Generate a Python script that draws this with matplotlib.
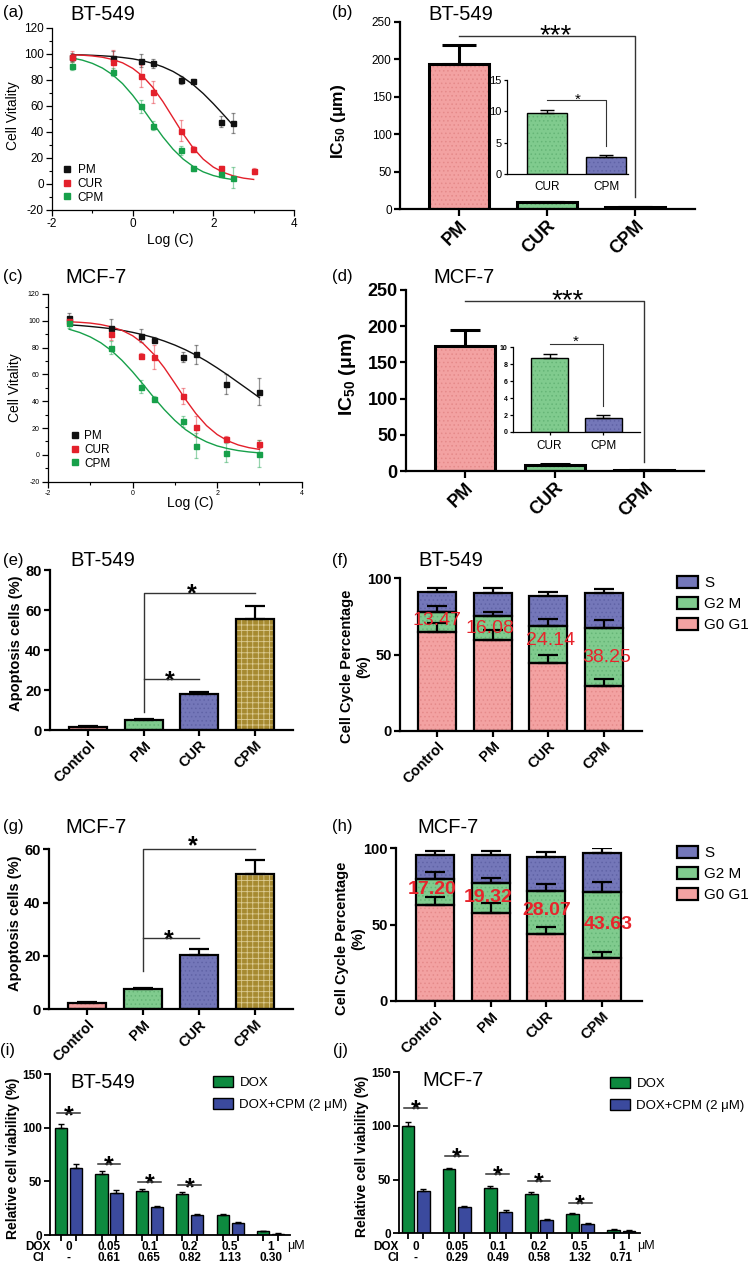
import numpy as np
import matplotlib
matplotlib.use('Agg')
import matplotlib.pyplot as plt
from matplotlib.patches import Patch
from matplotlib.lines import Line2D
from matplotlib.transforms import blended_transform_factory

plt.rcParams['font.family'] = ['Liberation Sans', 'DejaVu Sans']
plt.rcParams['mathtext.fontset'] = 'custom'
plt.rcParams['mathtext.rm'] = 'Liberation Sans'
plt.rcParams['mathtext.bf'] = 'Liberation Sans:bold'
plt.rcParams['mathtext.it'] = 'Liberation Sans:italic'
plt.rcParams['axes.unicode_minus'] = False
plt.rcParams['hatch.linewidth'] = 0.6
plt.rcParams['xtick.direction'] = 'out'
plt.rcParams['ytick.direction'] = 'out'

# ---------------- data ----------------
# (a) BT-549 cell viability vs log concentration
a_pm_x = [-1.5, -0.5, 0.2, 0.5, 1.2, 1.5, 2.2, 2.5]
a_pm_y = [98, 97, 95, 93, 80, 79, 48, 47]
a_pm_e = [3, 5, 5, 3.5, 3, 1.5, 4.5, 8]
a_cur_x = [-1.5, -0.5, 0.2, 0.5, 1.2, 1.5, 2.2, 3.0]
a_cur_y = [98, 94, 83, 71, 41, 27, 12, 10]
a_cur_e = [4, 9, 8.5, 8.5, 8, 2, 2, 2]
a_cpm_x = [-1.5, -0.5, 0.2, 0.5, 1.2, 1.5, 2.2, 2.5]
a_cpm_y = [91, 86, 60, 45, 26, 12, 8, 5]
a_cpm_e = [3, 3, 5, 3.5, 3.5, 2, 2, 8]
# fitted curves
a_fit_pm_x = [-1.5, -1.25, -1.0, -0.75, -0.5, -0.25, 0.0, 0.25, 0.5, 0.75, 1.0, 1.25, 1.5, 1.75, 2.0, 2.25, 2.5]
a_fit_pm_y = [99.5, 99.3, 99.0, 98.6, 98.1, 97.3, 96.3, 94.8, 92.8, 90.1, 86.6, 82.0, 76.4, 69.6, 61.8, 53.4, 44.8]
a_fit_cur_x = [-1.5, -1.25, -1.0, -0.75, -0.5, -0.25, 0.0, 0.25, 0.5, 0.75, 1.0, 1.25, 1.5, 1.75, 2.0, 2.25, 2.5, 2.75, 3.0]
a_fit_cur_y = [99.5, 99.1, 98.5, 97.5, 95.8, 93.2, 89.0, 82.9, 74.3, 63.4, 51.0, 38.6, 27.7, 19.1, 13.0, 8.9, 6.2, 4.5, 3.5]
a_fit_cpm_x = [-1.5, -1.25, -1.0, -0.75, -0.5, -0.25, 0.0, 0.25, 0.5, 0.75, 1.0, 1.25, 1.5, 1.75, 2.0, 2.25, 2.5]
a_fit_cpm_y = [96.9, 95.3, 92.8, 89.2, 84.1, 77.2, 68.3, 58.0, 47.0, 36.2, 26.8, 19.2, 13.5, 9.3, 6.5, 4.6, 3.3]

# (c) MCF-7 cell viability
c_x = [-1.5, -0.5, 0.2, 0.5, 1.2, 1.5, 2.2, 3.0]
c_pm_y = [102, 95, 89, 86, 73, 75, 53, 47]
c_pm_e = [4, 6, 5, 2, 4, 7, 7.5, 10]
c_cur_y = [100, 90, 74, 73, 44, 21, 12, 8]
c_cur_e = [3, 4, 2, 9, 6, 8, 2, 3]
c_cpm_y = [98, 80, 51, 42, 25, 7, 1.5, 1]
c_cpm_e = [3, 5, 5, 2, 4, 9, 7, 10]
c_fit_x = [-1.5, -1.25, -1.0, -0.75, -0.5, -0.25, 0.0, 0.25, 0.5, 0.75, 1.0, 1.25, 1.5, 1.75, 2.0, 2.25, 2.5, 2.75, 3.0]
c_fit_pm_y = [97.0, 96.5, 95.8, 95.0, 94.1, 92.9, 91.4, 89.6, 87.5, 84.9, 81.9, 78.4, 74.4, 69.9, 64.9, 59.6, 54.0, 48.4, 42.7]
c_fit_cur_y = [99.3, 98.9, 98.3, 97.2, 95.5, 92.9, 88.9, 83.1, 75.1, 65.0, 53.4, 41.5, 30.7, 21.8, 15.2, 10.5, 7.4, 5.4, 4.1]
c_fit_cpm_y = [93.7, 91.3, 88.0, 83.6, 77.8, 70.5, 62.0, 52.6, 42.9, 33.8, 25.7, 18.9, 13.7, 9.7, 6.7, 4.7, 3.2, 2.2, 1.5]
series_names = ['PM', 'CUR', 'CPM']

# (b)/(d) IC50
ic_cats = ['PM', 'CUR', 'CPM']
b_ic50 = [194, 9.7, 2.7]
b_ic50_err = [25, 0.45, 0.35]
d_ic50 = [172, 8.7, 1.7]
d_ic50_err = [23, 0.55, 0.3]

# (e)/(g) apoptosis
apo_cats = ['Control', 'PM', 'CUR', 'CPM']
e_apo = [1.5, 5, 17.8, 55.5]
e_apo_err = [0.3, 0.3, 1.4, 6.5]
g_apo = [2.5, 7.5, 20.3, 50.6]
g_apo_err = [0.2, 0.5, 2.5, 5.5]

# (f)/(h) cell cycle
cc_phases = ['S', 'G2 M', 'G0 G1']
f_g0g1 = [64.6, 59.2, 44.7, 29.4]
f_g2m = [13.47, 16.08, 24.14, 38.25]
f_s = [13.1, 15.3, 19.6, 23.0]
f_g0g1_err = [6.3, 6.6, 5.1, 4.4]
f_g2m_err = [3.9, 2.4, 4.7, 5.3]
f_s_err = [2.7, 3.3, 2.8, 2.6]
h_g0g1 = [62.7, 57.9, 43.7, 27.9]
h_g2m = [17.20, 19.32, 28.07, 43.63]
h_s = [16.0, 18.2, 22.7, 25.7]
h_g0g1_err = [5.6, 6.1, 5.0, 4.4]
h_g2m_err = [4.6, 3.6, 4.6, 6.7]
h_s_err = [2.6, 2.9, 3.3, 2.8]

# (i)/(j) combination
dox_doses = ['0', '0.05', '0.1', '0.2', '0.5', '1']
i_ci = ['-', '0.61', '0.65', '0.82', '1.13', '0.30']
i_dox = [100, 57, 41, 38.4, 18.4, 3.4]
i_dox_err = [4, 2.4, 2.2, 1.6, 1.0, 0.5]
i_cmb = [63, 39, 26, 18.4, 11.6, 0.9]
i_cmb_err = [3, 2.6, 1.5, 1.3, 0.9, 1.3]
i_sig_groups = [0, 1, 2, 3]
i_sig_y = [113.6, 66.3, 49.8, 46.4]
j_ci = ['-', '0.29', '0.49', '0.58', '1.32', '0.71']
j_dox = [100.3, 59.6, 42.5, 37, 18.3, 3.4]
j_dox_err = [3.1, 1.6, 1.9, 1.5, 1.0, 0.3]
j_cmb = [39.4, 24.2, 20.2, 12.4, 8.4, 2.5]
j_cmb_err = [1.9, 1.6, 1.2, 0.6, 0.9, 0.6]
j_sig_groups = [0, 1, 2, 3, 4]
j_sig_y = [117, 72, 55.3, 48.8, 28.6]

# ---------------- styles ----------------
C_BLACK, C_RED, C_GREEN = '#111111', '#e3202b', '#17a04a'
PINK, PINK_H = '#f3a2a2', '#e58a8a'
GRN, GRN_H = '#80cb8e', '#66b577'
BLU, BLU_H = '#7477b9', '#6063a6'
OLV, OLV_H = '#a68a30', '#dccb92'
DOXG, CMBB = '#0d8a3f', '#3b4a9e'
RED_TXT = '#e8242c'

W, H = 750, 1267
fig = plt.figure(figsize=(W / 100, H / 100), dpi=100)


def px_ax(l, t, r, b):
    return fig.add_axes([l / W, 1 - b / H, (r - l) / W, (b - t) / H])


def ftext(x, y, s, **kw):
    return fig.text(x / W, 1 - y / H, s, **kw)


def clean(ax, lw):
    for sp in ('top', 'right'):
        ax.spines[sp].set_visible(False)
    for sp in ('left', 'bottom'):
        ax.spines[sp].set_linewidth(lw)


def hbar(ax, x, h, w, face, hcol, hatch, lw, bottom=None, z=2):
    ax.bar(x, h, w, bottom=bottom, color=face, edgecolor=hcol, hatch=hatch,
           linewidth=0, zorder=z)
    ax.bar(x, h, w, bottom=bottom, fill=False, edgecolor='black',
           linewidth=lw, zorder=z + 0.2)


def up_err(ax, x, top, err, lw, cs, z=4):
    ax.errorbar(x, top, yerr=[np.zeros(len(err)), err], fmt='none',
                ecolor='black', elinewidth=lw, capsize=cs, capthick=lw, zorder=z)


def star(ax, x, yc, s, fs, bold=False):
    ax.annotate(s, (x, yc), xytext=(0, -0.58 * fs), textcoords='offset points',
                ha='center', va='baseline', fontsize=fs,
                fontweight='bold' if bold else 'normal', annotation_clip=False)


def bracket(ax, xs, ys, lw=1.0):
    ax.plot(xs, ys, color='#333333', lw=lw, clip_on=False, zorder=5)


def rot_xlabels(ax, ticks, labels, fs):
    ax.set_xticks(ticks, labels=labels, fontsize=fs, fontweight='bold',
                  rotation=45, ha='right', va='top', rotation_mode='anchor')


# ---------------- (a) & (c) dose response ----------------
def dose_panel(ax, series, fits, tick_fs):
    for (x, y, e, col), (fx, fy) in zip(series, fits):
        ax.errorbar(x, y, yerr=e, fmt='none', ecolor=col, alpha=0.45,
                    elinewidth=0.9, capsize=1.6, capthick=0.9, zorder=2)
        ax.plot(fx, fy, '-', color=col, lw=1.0, zorder=3)
        ax.plot(x, y, 's', color=col, ms=3.6, zorder=4)
    ax.set_xlim(-2, 4)
    ax.set_ylim(-20, 120)
    ax.set_xticks([-2, 0, 2, 4])
    ax.set_xticks([-1, 1, 3], minor=True)
    ax.set_yticks(list(range(-20, 121, 20)))
    ax.set_yticks(list(range(-10, 120, 20)), minor=True)
    clean(ax, 0.9)
    ax.tick_params(which='major', length=4, width=0.9, labelsize=tick_fs, pad=2)
    ax.tick_params(which='minor', length=2.2, width=0.8)


def dose_legend(ax, left, top, hl):
    handles = [Line2D([], [], marker='s', color=c, ls='none', ms=4.8)
               for c in (C_BLACK, C_RED, C_GREEN)]
    ax.legend(handles, series_names, loc='upper left',
              bbox_to_anchor=(left / W, 1 - top / H), bbox_transform=fig.transFigure,
              frameon=False, fontsize=8.5, handlelength=hl, handletextpad=0.4,
              labelspacing=0.15, borderpad=0, borderaxespad=0)


axa = px_ax(52, 28, 294, 210)
dose_panel(axa,
           [(a_pm_x, a_pm_y, a_pm_e, C_BLACK), (a_cur_x, a_cur_y, a_cur_e, C_RED),
            (a_cpm_x, a_cpm_y, a_cpm_e, C_GREEN)],
           [(a_fit_pm_x, a_fit_pm_y), (a_fit_cur_x, a_fit_cur_y), (a_fit_cpm_x, a_fit_cpm_y)],
           8.5)
axa.set_ylabel('Cell Vitality', fontsize=10)
axa.yaxis.set_label_coords(-0.132, 0.52)
axa.set_xlabel('Log (C)', fontsize=10)
axa.xaxis.set_label_coords(0.487, -0.126)
dose_legend(axa, 61, 164, 1.0)

axc = px_ax(48, 294, 301.7, 481.7)
dose_panel(axc,
           [(c_x, c_pm_y, c_pm_e, C_BLACK), (c_x, c_cur_y, c_cur_e, C_RED),
            (c_x, c_cpm_y, c_cpm_e, C_GREEN)],
           [(c_fit_x, c_fit_pm_y), (c_fit_x, c_fit_cur_y), (c_fit_x, c_fit_cpm_y)],
           5)
axc.set_ylabel('Cell Vitality', fontsize=10)
axc.yaxis.set_label_coords(-0.102, 0.5)
axc.set_xlabel('Log (C)', fontsize=10)
axc.xaxis.set_label_coords(0.56, -0.076)
dose_legend(axc, 71, 430, 0.7)

# ---------------- (b) & (d) IC50 ----------------
bar_cols = [(PINK, PINK_H), (GRN, GRN_H), (BLU, BLU_H)]


def ic_main(ax, vals, errs, width, cap, ytick_fs, ybold):
    for i, v in enumerate(vals):
        hbar(ax, i, v, width, bar_cols[i][0], bar_cols[i][1], '....', 2.2)
    up_err(ax, list(range(len(vals))), vals, errs, 2.2, cap)
    ax.set_ylim(0, 250)
    ax.set_yticks(list(range(0, 251, 50)), labels=[str(v) for v in range(0, 251, 50)],
                  fontsize=ytick_fs, fontweight='bold' if ybold else 'normal')
    clean(ax, 1.6)
    ax.tick_params(axis='y', length=4, width=1.6, pad=2)
    ax.tick_params(axis='x', length=5, width=1.6, pad=1)
    rot_xlabels(ax, [0, 1, 2], ic_cats, 13)


def ic_inset(ax, vals, errs, ymax, yticks, ytick_fs, ybold, xtick_len, xpad):
    ax.set_facecolor('none')
    for i, v in enumerate(vals):
        hbar(ax, i, v, 0.68, bar_cols[i + 1][0], bar_cols[i + 1][1], '....', 1.0)
    up_err(ax, [0, 1], vals, errs, 1.0, 5)
    ax.set_ylim(0, ymax)
    ax.set_yticks(yticks, labels=[str(v) for v in yticks], fontsize=ytick_fs,
                  fontweight='bold' if ybold else 'normal')
    ax.set_xticks([0, 1], labels=ic_cats[1:], fontsize=8.5)
    clean(ax, 0.9)
    ax.tick_params(axis='y', length=2.5, width=0.9, pad=1.5)
    ax.tick_params(axis='x', length=xtick_len, width=0.9, pad=xpad)


axb = px_ax(400, 22, 695, 209.3)
axb.set_xlim(-0.67, 2.68)
ic_main(axb, b_ic50, b_ic50_err, 0.68, 12, 8.5, False)
bracket(axb, [0, 2, 2], [231, 231, 17])
star(axb, 1.1, 243.8, '***', 20)
axb.set_ylabel(r'$\mathbf{IC_{50}}$ (μm)', fontsize=12.5, fontweight='bold')
axb.yaxis.set_label_coords(-0.176, 0.471)

axbi = px_ax(507, 80, 628, 174)
axbi.set_xlim(-0.68, 1.37)
ic_inset(axbi, b_ic50[1:], b_ic50_err[1:], 15, [0, 5, 10, 15], 8, False, 0, 5)
bracket(axbi, [0, 1, 1], [11.75, 11.75, 4.5], lw=0.8)
star(axbi, 0.51, 12.65, '*', 11)

axd = px_ax(406, 290, 704, 471)
axd.set_xlim(-0.66, 2.67)
ic_main(axd, d_ic50, d_ic50_err, 0.67, 10.5, 13, True)
bracket(axd, [0, 2, 2], [235, 235, 12.8])
star(axd, 1.15, 247.6, '***', 20)
axd.set_ylabel(r'$\mathbf{IC_{50}}$ (μm)', fontsize=14, fontweight='bold')
axd.yaxis.set_label_coords(-0.161, 0.536)

axdi = px_ax(513, 347.3, 640, 432)
axdi.set_xlim(-0.68, 1.68)
ic_inset(axdi, d_ic50[1:], d_ic50_err[1:], 10, [0, 2, 4, 6, 8, 10], 5, True, 2.5, 3)
bracket(axdi, [0, 1, 1], [10.35, 10.35, 3.1], lw=0.8)
star(axdi, 0.49, 11.26, '*', 11)

# ---------------- (e) & (g) apoptosis ----------------
apo_cols = [(PINK, PINK_H, '....'), (GRN, GRN_H, '....'), (BLU, BLU_H, '....'),
            (OLV, OLV_H, '+++')]


def apo_panel(ax, vals, errs, ymax):
    for i, v in enumerate(vals):
        f, hc, ht = apo_cols[i]
        hbar(ax, i, v, 0.68, f, hc, ht, 1.6)
    up_err(ax, [0, 1, 2, 3], vals, errs, 1.6, 7)
    ax.set_xlim(-0.68, 3.68)
    ax.set_ylim(0, ymax)
    ax.set_yticks(list(range(0, ymax + 1, 20)),
                  labels=[str(v) for v in range(0, ymax + 1, 20)],
                  fontsize=10.5, fontweight='bold')
    clean(ax, 1.6)
    ax.tick_params(axis='y', length=4, width=1.6, pad=2)
    ax.tick_params(axis='x', length=4, width=1.6, pad=2)
    rot_xlabels(ax, [0, 1, 2, 3], apo_cats, 10.5)
    ax.set_ylabel('Apoptosis cells (%)', fontsize=10.5, fontweight='bold')


axe = px_ax(50, 570, 293, 730)
apo_panel(axe, e_apo, e_apo_err, 80)
bracket(axe, [1, 1, 3], [9.2, 68.3, 68.3])
bracket(axe, [1, 2], [25.5, 25.5])
star(axe, 1.87, 71.7, '*', 18, True)
star(axe, 1.46, 28.3, '*', 18, True)
axe.yaxis.set_label_coords(-0.111, 0.54)

axg = px_ax(49, 849.3, 293, 1009.3)
apo_panel(axg, g_apo, g_apo_err, 60)
bracket(axg, [1, 1, 3], [14.5, 60, 60])
bracket(axg, [1, 2], [26.6, 26.6])
star(axg, 1.88, 63.8, '*', 18, True)
star(axg, 1.46, 28.5, '*', 18, True)
axg.yaxis.set_label_coords(-0.111, 0.536)

# ---------------- (f) & (h) cell cycle ----------------


def cc_panel(ax, g0, g2, s, e0, e2, es, lab_dx, lab_y, bold_lab):
    x = [0, 1, 2, 3]
    b2 = [a for a in g0]
    b3 = [a + b for a, b in zip(g0, g2)]
    tot = [a + b for a, b in zip(b3, s)]
    for i in x:
        hbar(ax, i, g0[i], 0.68, PINK, PINK_H, '....', 1.6)
        hbar(ax, i, g2[i], 0.68, GRN, GRN_H, '....', 1.6, bottom=b2[i])
        hbar(ax, i, s[i], 0.68, BLU, BLU_H, '....', 1.6, bottom=b3[i])
    up_err(ax, x, g0, e0, 1.6, 7)
    up_err(ax, x, b3, e2, 1.6, 7)
    up_err(ax, x, tot, es, 1.6, 7)
    for i in x:
        ax.text(i + lab_dx[i], lab_y[i], '%.2f' % g2[i], color=RED_TXT, fontsize=14,
                ha='center', va='center', zorder=6,
                fontweight='bold' if bold_lab else 'normal')
    ax.set_ylim(0, 100)
    ax.set_yticks([0, 50, 100], labels=['0', '50', '100'], fontsize=10.5,
                  fontweight='bold')
    clean(ax, 1.6)
    ax.tick_params(axis='y', length=4, width=1.6, pad=2)
    ax.tick_params(axis='x', length=4, width=1.6, pad=2)
    rot_xlabels(ax, x, apo_cats, 10.5)
    ax.set_ylabel('Cell Cycle Percentage\n(%)', fontsize=10.5, fontweight='bold')
    handles = [Patch(facecolor=c, edgecolor='black', linewidth=1.6) for c in (BLU, GRN, PINK)]
    return handles


axf = px_ax(400, 578.3, 642, 730.7)
axf.set_xlim(-0.67, 3.69)
hf = cc_panel(axf, f_g0g1, f_g2m, f_s, f_g0g1_err, f_g2m_err, f_s_err,
              [0, -0.05, 0.05, 0.05], [72.2, 66.9, 59, 47.8], False)
axf.yaxis.set_label_coords(-0.124, 0.42)
axf.legend(hf, cc_phases, loc='upper left', bbox_to_anchor=(677 / W, 1 - 576 / H),
           bbox_transform=fig.transFigure, frameon=False, fontsize=11,
           handlelength=1.35, handleheight=0.8, handletextpad=0.45,
           labelspacing=0.45, borderpad=0, borderaxespad=0)

axh = px_ax(396, 848.3, 642, 1001)
axh.set_xlim(-0.7, 3.72)
hh = cc_panel(axh, h_g0g1, h_g2m, h_s, h_g0g1_err, h_g2m_err, h_s_err,
              [-0.05, -0.04, 0, 0.11], [72.7, 67.9, 59, 50.2], True)
axh.yaxis.set_label_coords(-0.124, 0.41)
axh.legend(hh, cc_phases, loc='upper left', bbox_to_anchor=(677 / W, 1 - 846 / H),
           bbox_transform=fig.transFigure, frameon=False, fontsize=11,
           handlelength=1.35, handleheight=0.8, handletextpad=0.45,
           labelspacing=0.45, borderpad=0, borderaxespad=0)

# ---------------- (i) & (j) combination ----------------
OFF, BW = 0.185, 0.3


def combo_panel(ax, dv, de, cv, ce, ci, sg, sy, row_y, dox_x, ci_x, um_x, leg_left, leg_top):
    xs = np.arange(len(dox_doses))
    ax.bar(xs - OFF, dv, BW, color=DOXG, edgecolor='black', linewidth=1.0, zorder=2,
           label='DOX')
    ax.bar(xs + OFF, cv, BW, color=CMBB, edgecolor='black', linewidth=1.0, zorder=2,
           label='DOX+CPM (2 μM)')
    up_err(ax, xs - OFF, dv, de, 1.0, 2.5)
    up_err(ax, xs + OFF, cv, ce, 1.0, 2.5)
    for g, y in zip(sg, sy):
        bracket(ax, [g - 0.28, g + 0.28], [y, y], lw=1.1)
        star(ax, g, y + 4.6, '*', 18, True)
    ax.set_ylim(0, 150)
    ax.set_yticks([0, 50, 100, 150], labels=['0', '50', '100', '150'], fontsize=8.5,
                  fontweight='bold')
    ticks = sorted(list(xs - OFF) + list(xs + OFF))
    ax.set_xticks(ticks, labels=[''] * len(ticks))
    clean(ax, 1.3)
    ax.tick_params(axis='y', length=4, width=1.3, pad=2)
    ax.tick_params(axis='x', length=4, width=1.3)
    ax.set_ylabel('Relative cell viability (%)', fontsize=10, fontweight='bold')
    tr = blended_transform_factory(ax.transData, fig.transFigure)
    for i in xs:
        ax.text(i, 1 - row_y[0] / H, dox_doses[i], transform=tr, ha='center', va='center',
                fontsize=8.5, fontweight='bold')
        ax.text(i, 1 - row_y[1] / H, ci[i], transform=tr, ha='center', va='center',
                fontsize=8.5, fontweight='bold')
    ftext(dox_x, row_y[0], 'DOX', ha='center', va='center', fontsize=8.5, fontweight='bold')
    ftext(ci_x, row_y[1], 'CI', ha='center', va='center', fontsize=8.5, fontweight='bold')
    ftext(um_x, row_y[0] - 1, 'μM', ha='left', va='center', fontsize=9)
    ax.legend(loc='upper left', bbox_to_anchor=(leg_left / W, 1 - leg_top / H),
              bbox_transform=fig.transFigure, frameon=False, fontsize=9.5,
              handlelength=1.5, handleheight=0.9, handletextpad=0.5,
              labelspacing=0.7, borderpad=0, borderaxespad=0)


axi = px_ax(50, 1074.3, 290, 1235)
axi.set_xlim(-0.46, 5.48)
combo_panel(axi, i_dox, i_dox_err, i_cmb, i_cmb_err, i_ci, i_sig_groups, i_sig_y,
            (1247, 1258), 37.5, 38, 287, 213, 1076)
axi.yaxis.set_label_coords(-0.125, 0.476)

axj = px_ax(399, 1072.3, 640, 1233.3)
axj.set_xlim(-0.41, 5.46)
combo_panel(axj, j_dox, j_dox_err, j_cmb, j_cmb_err, j_ci, j_sig_groups, j_sig_y,
            (1247, 1258), 386, 393, 637, 610, 1077)
axj.yaxis.set_label_coords(-0.124, 0.476)

# ---------------- titles and panel letters ----------------
titles = [(70, 14, 'BT-549'), (428, 14, 'BT-549'), (65, 277.5, 'MCF-7'), (433, 277.5, 'MCF-7'),
          (70, 561, 'BT-549'), (418, 561, 'BT-549'), (65, 827.5, 'MCF-7'), (417, 827.5, 'MCF-7'),
          (70, 1082.5, 'BT-549'), (422, 1081, 'MCF-7')]
for x, y, s in titles:
    ftext(x, y, s, ha='left', va='center', fontsize=14.5)
letters = [(3, 13, '(a)'), (332, 13, '(b)'), (3, 277, '(c)'), (332, 277, '(d)'),
           (3, 561, '(e)'), (332, 561, '(f)'), (3, 827, '(g)'), (332, 827, '(h)'),
           (0, 1050, '(i)'), (333, 1050, '(j)')]
for x, y, s in letters:
    ftext(x, y, s, ha='left', va='center', fontsize=12)

fig.savefig('out.png', dpi=100)
